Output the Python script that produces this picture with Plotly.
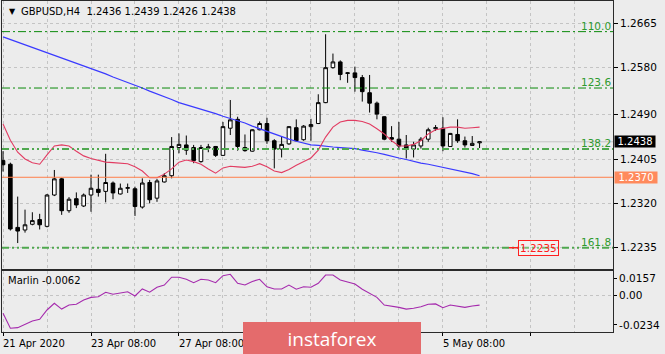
import plotly.graph_objects as go

# ---------------- data ----------------
bars = list(range(66))
opens = [1.2402, 1.2395, 1.2274, 1.2269, 1.2280, 1.2289, 1.2276, 1.2336, 1.2367, 1.2306,
         1.2329, 1.2315, 1.2336, 1.2347, 1.2343, 1.2359, 1.2338, 1.2349, 1.2348, 1.2313,
         1.2360, 1.2330, 1.2361, 1.2373, 1.2427, 1.2432, 1.2427, 1.2400, 1.2426, 1.2429,
         1.2412, 1.2464, 1.2481, 1.2427, 1.2420, 1.2461, 1.2473, 1.2440, 1.2424, 1.2434,
         1.2465, 1.2442, 1.2467, 1.2473, 1.2513, 1.2580, 1.2591, 1.2569, 1.2570, 1.2561,
         1.2532, 1.2512, 1.2486, 1.2446, 1.2443, 1.2432, 1.2424, 1.2430, 1.2443, 1.2463,
         1.2464, 1.2429, 1.2452, 1.2440, 1.2431, 1.2436]
highs = [1.2420, 1.2398, 1.2333, 1.2308, 1.2303, 1.2300, 1.2338, 1.2384, 1.2369, 1.2332,
         1.2341, 1.2339, 1.2375, 1.2375, 1.2415, 1.2362, 1.2358, 1.2358, 1.2352, 1.2368,
         1.2365, 1.2367, 1.2378, 1.2447, 1.2454, 1.2450, 1.2432, 1.2432, 1.2434, 1.2430,
         1.2476, 1.2518, 1.2486, 1.2452, 1.2462, 1.2477, 1.2484, 1.2443, 1.2448, 1.2468,
         1.2481, 1.2470, 1.2482, 1.2529, 1.2644, 1.2607, 1.2594, 1.2571, 1.2582, 1.2566,
         1.2566, 1.2515, 1.2487, 1.2468, 1.2476, 1.2451, 1.2438, 1.2447, 1.2465, 1.2470,
         1.2485, 1.2455, 1.2481, 1.2448, 1.2449, 1.2439]
lows = [1.2381, 1.2268, 1.2244, 1.2264, 1.2278, 1.2270, 1.2274, 1.2334, 1.2298, 1.2302,
        1.2311, 1.2313, 1.2304, 1.2333, 1.2322, 1.2328, 1.2337, 1.2340, 1.2296, 1.2310,
        1.2320, 1.2323, 1.2360, 1.2368, 1.2416, 1.2413, 1.2397, 1.2398, 1.2418, 1.2409,
        1.2411, 1.2451, 1.2421, 1.2419, 1.2419, 1.2460, 1.2434, 1.2387, 1.2408, 1.2432,
        1.2439, 1.2440, 1.2440, 1.2472, 1.2512, 1.2578, 1.2556, 1.2551, 1.2534, 1.2515,
        1.2494, 1.2481, 1.2441, 1.2438, 1.2422, 1.2406, 1.2408, 1.2425, 1.2438, 1.2459,
        1.2420, 1.2428, 1.2436, 1.2427, 1.2430, 1.2426]
closes = [1.2394, 1.2271, 1.2267, 1.2279, 1.2287, 1.2279, 1.2336, 1.2367, 1.2306, 1.2328,
          1.2317, 1.2336, 1.2349, 1.2341, 1.2360, 1.2340, 1.2349, 1.2350, 1.2314, 1.2359,
          1.2327, 1.2363, 1.2373, 1.2429, 1.2433, 1.2422, 1.2402, 1.2427, 1.2428, 1.2412,
          1.2467, 1.2480, 1.2429, 1.2421, 1.2461, 1.2473, 1.2440, 1.2424, 1.2433, 1.2467,
          1.2440, 1.2468, 1.2471, 1.2513, 1.2580, 1.2591, 1.2567, 1.2570, 1.2561, 1.2534,
          1.2512, 1.2491, 1.2443, 1.2443, 1.2430, 1.2425, 1.2432, 1.2443, 1.2461, 1.2465,
          1.2430, 1.2454, 1.2440, 1.2432, 1.2435, 1.2438]
ma_slow = [1.2639, 1.2634, 1.2629, 1.2623, 1.2618, 1.2613, 1.2608, 1.2603, 1.2598, 1.2593,
           1.2588, 1.2583, 1.2578, 1.2573, 1.2568, 1.2562, 1.2557, 1.2552, 1.2546, 1.2541,
           1.2535, 1.2530, 1.2524, 1.2519, 1.2513, 1.2509, 1.2505, 1.2501, 1.2496, 1.2492,
           1.2487, 1.2483, 1.2478, 1.2474, 1.2468, 1.2463, 1.2457, 1.2452, 1.2448, 1.2443,
           1.2439, 1.2435, 1.2432, 1.2431, 1.2429, 1.2428, 1.2427, 1.2426, 1.2425, 1.2422,
           1.2420, 1.2417, 1.2414, 1.2410, 1.2407, 1.2404, 1.2400, 1.2397, 1.2395, 1.2392,
           1.2390, 1.2387, 1.2383, 1.2380, 1.2377, 1.2373]
ma_fast = [1.2472, 1.2441, 1.2418, 1.2405, 1.2398, 1.2395, 1.2413, 1.2430, 1.2432, 1.2430,
           1.2420, 1.2411, 1.2406, 1.2402, 1.2399, 1.2398, 1.2397, 1.2396, 1.2390, 1.2382,
           1.2369, 1.2369, 1.2376, 1.2386, 1.2399, 1.2403, 1.2400, 1.2395, 1.2386, 1.2378,
           1.2388, 1.2391, 1.2390, 1.2389, 1.2391, 1.2396, 1.2390, 1.2382, 1.2379, 1.2385,
           1.2393, 1.2400, 1.2407, 1.2422, 1.2447, 1.2466, 1.2476, 1.2479, 1.2479, 1.2477,
           1.2472, 1.2463, 1.2453, 1.2440, 1.2430, 1.2430, 1.2433, 1.2440, 1.2453, 1.2461,
           1.2464, 1.2466, 1.2466, 1.2464, 1.2465, 1.2466]
marlin = [-0.0114, -0.0210, -0.0206, -0.0185, -0.0163, -0.0153, -0.0093, -0.0050, -0.0087, -0.0061,
          -0.0056, -0.0029, -0.0012, -0.0008, 0.0021, 0.0008, 0.0018, 0.0024, -0.0003, 0.0042,
          0.0021, 0.0053, 0.0067, 0.0117, 0.0117, 0.0104, 0.0082, 0.0104, 0.0099, 0.0082,
          0.0127, 0.0136, 0.0078, 0.0067, 0.0090, 0.0104, 0.0056, 0.0042, 0.0042, 0.0067,
          0.0040, 0.0056, 0.0053, 0.0078, 0.0131, 0.0131, 0.0099, 0.0088, 0.0074, 0.0040,
          0.0014, -0.0012, -0.0061, -0.0067, -0.0076, -0.0087, -0.0082, -0.0072, -0.0056, -0.0054,
          -0.0078, -0.0061, -0.0067, -0.0076, -0.0067, -0.0062]

price_ticks = [1.2665, 1.2580, 1.2490, 1.2405, 1.2320, 1.2235]
price_tick_text = ["1.2665", "1.2580", "1.2490", "1.2405", "1.2320", "1.2235"]
fib_levels = [1.2649, 1.2541, 1.2424, 1.2235]
fib_labels = ["110.0", "123.6", "138.2", "161.8"]
level_line = 1.2370
last_price = 1.2438
target_price = 1.2235
marlin_ticks = [0.0110, 0.0, -0.0189]
marlin_tick_text = ["0.0157", "0.00", "-0.0234"]
time_tick_pos = [0, 12, 24, 60]
time_tick_text = ["21 Apr 2020", "23 Apr 08:00", "27 Apr 08:00", "5 May 08:00"]
title_text = "GBPUSD,H4\u00a0\u00a01.2436 1.2439 1.2426 1.2438"
marlin_text = "Marlin -0.0062"

# ---------------- figure ----------------
FONT = "DejaVu Sans"
BG = "#ECECEC"
GRID = "#C4C4C4"
FRAME = "#2A2A2A"

fig = go.Figure()

fig.add_trace(go.Candlestick(
    x=bars, open=opens, high=highs, low=lows, close=closes,
    increasing=dict(line=dict(color="black", width=1), fillcolor="white"),
    decreasing=dict(line=dict(color="black", width=1), fillcolor="black"),
    whiskerwidth=0, xaxis="x", yaxis="y", showlegend=False, hoverinfo="skip"))

fig.add_trace(go.Scatter(x=bars, y=ma_slow, mode="lines", xaxis="x", yaxis="y",
                         line=dict(color="#3A3AFF", width=1.2), showlegend=False))
fig.add_trace(go.Scatter(x=bars, y=ma_fast, mode="lines", xaxis="x", yaxis="y",
                         line=dict(color="#E23C62", width=1.1), showlegend=False))
fig.add_trace(go.Scatter(x=bars, y=marlin, mode="lines", xaxis="x2", yaxis="y2",
                         line=dict(color="#A52AAD", width=1.1), showlegend=False))

shapes = []
shapes.append(dict(type="line", xref="x domain", x0=0, x1=1, yref="y", y0=last_price, y1=last_price,
                   line=dict(color="#C2C2C2", width=1), layer="below"))
for i, lv in enumerate(fib_levels):
    if i >= 2:
        ln = dict(color="#4FA84F", width=2, dash="7px,3px,2px,3px,2px,3px")
    else:
        ln = dict(color="#0A8A0A", width=1, dash="8px,3px,2px,3px")
    shapes.append(dict(type="line", xref="x domain", x0=0, x1=1, yref="y", y0=lv, y1=lv,
                       line=ln, layer="above"))
shapes.append(dict(type="line", xref="x domain", x0=0, x1=1, yref="y", y0=level_line, y1=level_line,
                   line=dict(color="#FF7F4A", width=1), layer="above"))
shapes.append(dict(type="line", xref="x", x0=69.0, x1=70.3, yref="y", y0=target_price, y1=target_price,
                   line=dict(color="#FF2020", width=1.5), layer="above"))
shapes.append(dict(type="line", xref="x2 domain", x0=0, x1=1, yref="y2", y0=0, y1=0,
                   line=dict(color=GRID, width=1, dash="3px,3px"), layer="below"))

annotations = []
annotations.append(dict(xref="paper", yref="paper", x=(7 - 2) / 611, y=(332 - 12) / 331,
                        xanchor="left", yanchor="middle", text="\u25bc", showarrow=False,
                        font=dict(family=FONT, size=8, color="black")))
annotations.append(dict(xref="paper", yref="paper", x=(19 - 2) / 611, y=(332 - 12) / 331,
                        xanchor="left", yanchor="middle", text=title_text, showarrow=False,
                        font=dict(family=FONT, size=10, color="black")))
for lv, tx in zip(fib_levels, fib_labels):
    annotations.append(dict(xref="paper", yref="y", x=1, y=lv, xanchor="right", yanchor="bottom",
                            xshift=0, yshift=-2, text=tx, showarrow=False,
                            font=dict(family=FONT, size=10.5, color="#2E9A2E")))
annotations.append(dict(xref="paper", yref="y", x=1, y=last_price, xanchor="left", yanchor="middle",
                        xshift=1, text=f"{last_price:.4f}", showarrow=False, bgcolor="black",
                        width=40, height=11, borderpad=0,
                        font=dict(family=FONT, size=10, color="white")))
annotations.append(dict(xref="paper", yref="y", x=1, y=level_line, xanchor="left", yanchor="middle",
                        xshift=1, text=f"{level_line:.4f}", showarrow=False, bgcolor="#FF8A5C",
                        width=42, height=11, borderpad=0,
                        font=dict(family=FONT, size=10, color="white")))
annotations.append(dict(xref="x", yref="y", x=70.3, y=target_price, xanchor="left", yanchor="middle",
                        text=f"{target_price:.4f}", showarrow=False, bgcolor="rgba(255,255,255,0.25)",
                        bordercolor="#FF2020", borderwidth=1, borderpad=1,
                        font=dict(family=FONT, size=10.5, color="#FF2020")))
annotations.append(dict(xref="paper", yref="paper", x=(6 - 2) / 611, y=(332 - 280) / 331,
                        xanchor="left", yanchor="middle", text=marlin_text, showarrow=False,
                        font=dict(family=FONT, size=10, color="black")))
for pos, tx in zip(time_tick_pos, time_tick_text):
    annotations.append(dict(xref="x", yref="paper", x=pos, y=(332 - 343) / 331,
                            xanchor="left", yanchor="middle", xshift=-2, text=tx, showarrow=False,
                            font=dict(family=FONT, size=10, color="black")))
annotations.append(dict(xref="paper", yref="paper", x=(243 - 2) / 611, y=(332 - 322) / 331,
                        xanchor="left", yanchor="top", text="instaforex", showarrow=False,
                        width=178, height=33, bgcolor="#E46B6C", borderpad=0, borderwidth=0,
                        font=dict(family="Open Sans", size=19, color="white")))

x_range = [-0.14, 83.2]
grid_common = dict(showgrid=True, gridcolor=GRID, griddash="3px,3px", gridwidth=1)

fig.update_layout(
    width=665, height=354,
    margin=dict(l=2, r=52, t=1, b=22),
    paper_bgcolor=BG, plot_bgcolor=BG,
    showlegend=False,
    shapes=shapes, annotations=annotations,
    xaxis=dict(domain=[0, 1], anchor="y", range=x_range, rangeslider=dict(visible=False),
               tickmode="linear", tick0=0, dtick=6, showticklabels=False, ticks="",
               showline=True, mirror=True, linecolor=FRAME, linewidth=1, zeroline=False,
               **grid_common),
    yaxis=dict(domain=[(332 - 269) / 331, 1], anchor="x", side="right",
               range=[1.21943, 1.27077], tickmode="array", tickvals=price_ticks,
               ticktext=price_tick_text, ticks="outside", ticklen=4, tickcolor="black",
               tickfont=dict(family=FONT, size=10.5, color="black"),
               showline=True, mirror=True, linecolor=FRAME, linewidth=1, zeroline=False,
               **grid_common),
    xaxis2=dict(domain=[0, 1], anchor="y2", matches="x", range=x_range,
                tickmode="linear", tick0=0, dtick=12, ticks="outside", ticklen=3,
                tickcolor="black", showticklabels=False,
                minor=dict(tick0=0, dtick=6, showgrid=True, gridcolor=GRID, griddash="3px,3px"),
                showline=True, mirror=True, linecolor=FRAME, linewidth=1, zeroline=False,
                **grid_common),
    yaxis2=dict(domain=[0, (332 - 271) / 331], anchor="x2", side="right",
                range=[-0.0234, 0.0157], tickmode="array", tickvals=marlin_ticks,
                ticktext=marlin_tick_text, ticks="outside", ticklen=3, tickcolor="black",
                tickfont=dict(family=FONT, size=10.5, color="black"),
                showline=True, mirror=True, linecolor=FRAME, linewidth=1, zeroline=False,
                showgrid=False),
)

fig.write_html("out.html")
